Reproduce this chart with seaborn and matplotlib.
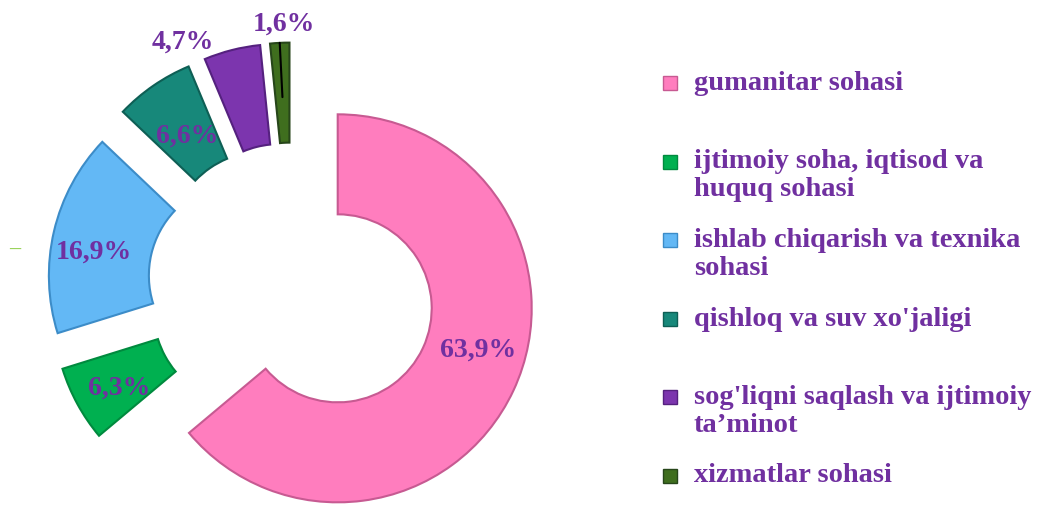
import numpy as np
import matplotlib
matplotlib.use("Agg")
import matplotlib.pyplot as plt
import seaborn as sns

# Ma'lumotlar
sohalar = ["gumanitar sohasi",
           "ijtimoiy soha, iqtisod va\nhuquq sohasi",
           "ishlab chiqarish va texnika\nsohasi",
           "qishloq va suv xo'jaligi",
           "sog'liqni saqlash va ijtimoiy\nta\u2019minot",
           "xizmatlar sohasi"]
ulush = [63.9, 6.3, 16.9, 6.6, 4.7, 1.6]
yorliqlar = ["63,9%", "6,3%", "16,9%", "6,6%", "4,7%", "1,6%"]

ranglar = ["#FF7DBE", "#00B050", "#63B8F5", "#17887A", "#7C35AE", "#3F6E1E"]
chegara = ["#C75A92", "#008A3E", "#3C8CC8", "#0E5F55", "#55217F", "#27461A"]
matn_rang = "#7030A0"

sns.set_theme(style="white")
plt.rcParams['font.family'] = ['Liberation Serif', 'DejaVu Serif']

fig = plt.figure(figsize=(10.38, 5.06), dpi=100)
ax = fig.add_axes([0, 0, 1, 1])

R = 194
markaz = (292, 218)
# explode matplotlibda mutlaq birlikda
wedges, _ = ax.pie(ulush, startangle=90, counterclock=False, radius=R,
                   center=markaz, explode=[0.26 * R] * len(ulush),
                   colors=ranglar, normalize=True,
                   wedgeprops=dict(width=100, linewidth=1.5))
for w, ec in zip(wedges, chegara):
    w.set_edgecolor(ec)
ax.set_xlim(0, 1038)
ax.set_ylim(0, 506)
ax.set_aspect("auto")
ax.axis("off")

# Foiz yorliqlari
masofa = [0.755, 0.77, 0.78, 0.69, 1.13, 1.10]
burilish = [9, 2, 4, 0, 12, -1.5]
for i, w in enumerate(wedges):
    t = np.deg2rad((w.theta1 + w.theta2) / 2 + burilish[i])
    cx, cy = w.center
    x = cx + masofa[i] * R * np.cos(t)
    y = cy + masofa[i] * R * np.sin(t)
    ax.text(x, y, yorliqlar[i], ha="center", va="center", fontsize=20,
            fontweight="bold", color=matn_rang)

# 1,6% uchun chiziq
w = wedges[-1]
t = np.deg2rad((w.theta1 + w.theta2) / 2)
cx, cy = w.center
ax.plot([cx + 0.72 * R * np.cos(t), cx + 1.0 * R * np.cos(t)],
        [cy + 0.72 * R * np.sin(t), cy + 1.0 * R * np.sin(t)],
        color="black", lw=1.5)

ax.text(15, 256, "\u2013", color="#92D050", fontsize=16, fontweight="bold",
        ha="center", va="center")

# Legenda
for i, (nom, rang, ec) in enumerate(zip(sohalar, ranglar, chegara)):
    y = 506 - 84 - i * 78.5
    ax.add_patch(plt.Rectangle((663, y - 7), 14, 14, facecolor=rang,
                               edgecolor=ec, lw=1))
    ax.text(694, y + 13, nom, ha="left", va="top", fontsize=20.5,
            fontweight="bold", color=matn_rang, linespacing=1.15)

fig.savefig("out.png", dpi=100)
